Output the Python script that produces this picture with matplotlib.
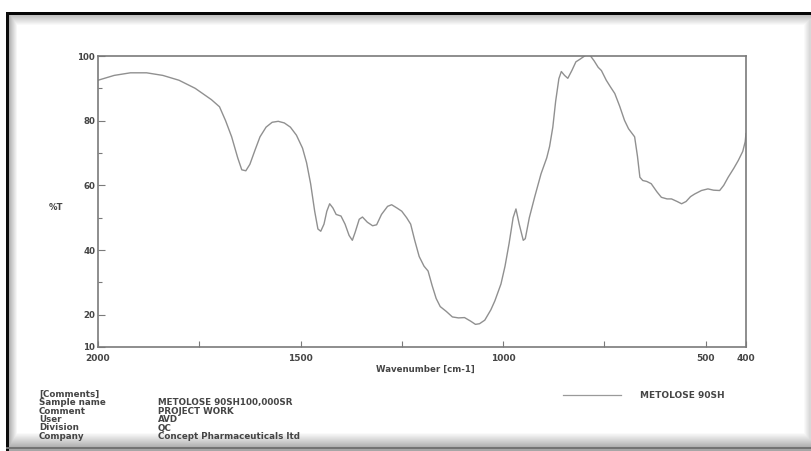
import numpy as np
import matplotlib
matplotlib.use("Agg")
import matplotlib.pyplot as plt
from matplotlib.ticker import FixedLocator

plt.rcParams['font.family'] = ['DejaVu Sans']

# ---- data ----
wavenumber = [2000, 1960, 1920, 1880, 1840, 1800, 1760, 1720, 1700, 1685, 1670, 1655,
              1645, 1635, 1625, 1612, 1600, 1585, 1570, 1555, 1540, 1525, 1510, 1495,
              1485, 1475, 1465, 1457, 1450, 1442, 1435, 1428, 1420, 1412, 1400, 1390,
              1380, 1372, 1365, 1355, 1347, 1335, 1322, 1312, 1300, 1285, 1275, 1262,
              1250, 1238, 1228, 1218, 1207, 1195, 1185, 1175, 1165, 1155, 1140, 1125,
              1110, 1095, 1080, 1068, 1058, 1045, 1030, 1020, 1005, 995, 985, 975,
              968, 960, 950, 945, 935, 922, 906, 892, 885, 877, 870, 862,
              856, 848, 840, 830, 820, 810, 795, 785, 775, 765, 757, 745,
              735, 724, 712, 700, 690, 675, 668, 662, 655, 645, 634, 620,
              609, 595, 584, 570, 559, 548, 537, 527, 510, 494, 480, 465,
              455, 444, 430, 419, 408, 402, 400]
transmittance = [92.5, 94.0, 94.8, 94.8, 94.0, 92.5, 90.0, 86.5, 84.3, 80.0, 75.0, 68.5,
                 64.8, 64.5, 66.5, 71.0, 75.0, 78.0, 79.5, 79.8, 79.3, 78.0, 75.5, 71.5,
                 67.0, 60.5, 52.0, 46.5, 45.8, 48.0, 52.0, 54.3, 53.0, 51.0, 50.5, 48.0,
                 44.5, 43.0, 45.5, 49.5, 50.2, 48.6, 47.5, 47.8, 51.0, 53.5, 54.0, 53.0,
                 52.0, 50.0, 48.0, 43.0, 38.0, 35.0, 33.5, 29.0, 25.0, 22.5, 21.0, 19.3,
                 19.0, 19.1, 18.0, 17.0, 17.2, 18.3, 21.5, 24.3, 29.5, 35.0, 42.0, 50.0,
                 52.7, 48.0, 43.0, 43.5, 50.0, 56.3, 63.6, 68.5, 72.0, 78.0, 86.0, 93.0,
                 95.2, 94.0, 93.1, 95.5, 98.2, 99.0, 100.3, 100.2, 98.5, 96.5, 95.5, 92.5,
                 90.5, 88.4, 84.5, 80.1, 77.5, 75.0, 69.0, 62.5, 61.5, 61.2, 60.5, 58.0,
                 56.3, 55.8, 55.8, 55.0, 54.3, 55.0, 56.5, 57.3, 58.4, 58.9, 58.5, 58.4,
                 60.0, 62.5, 65.3, 67.7, 70.5, 73.5, 76.0]

y_ticks = [10, 20, 40, 60, 80, 100]
y_minor = [30, 50, 70, 90]
x_ticks = [2000, 1500, 1000, 500, 400]
x_minor = [1750, 1250, 750]

comment_keys = ["Sample name", "Comment", "User", "Division", "Company"]
comment_vals = ["METOLOSE 90SH100,000SR", "PROJECT WORK", "AVD", "QC",
                "Concept Pharmaceuticals ltd"]
series_name = "METOLOSE 90SH"

W, H = 811, 451
fig = plt.figure(figsize=(W / 100, H / 100), dpi=100)

# ---- scanned-page frame background ----
yy, xx = np.mgrid[0:H, 0:W]
shade = np.ones((H, W))
shade = np.minimum(shade, 0.75 + 0.25 * np.clip((yy - 15) / 10.0, 0, 1))
shade = np.minimum(shade, 0.70 + 0.30 * np.clip((xx - 9) / 8.0, 0, 1))
shade = np.minimum(shade, 1.0 - 0.35 * np.clip((yy - 432) / 16.0, 0, 1))
shade = np.minimum(shade, 1.0 - 0.15 * np.clip((xx - 803) / 6.0, 0, 1))
bg = shade
bg[:12, :] = 1.0
bg[:, :6] = 1.0
bg[12:15, 6:] = 0.02
bg[12:, 6:9] = 0.05
bg[447:449, 6:] = 0.45
bgax = fig.add_axes([0, 0, 1, 1])
bgax.imshow(bg, cmap="gray", vmin=0, vmax=1, aspect="auto", interpolation="bilinear")
bgax.axis("off")

txt_color = "#454545"
fs = 6.3
fw = "bold"

# ---- spectrum axes ----
left, right, top, bottom = 98, 746, 56, 347
ax = fig.add_axes([left / W, 1 - bottom / H, (right - left) / W, (bottom - top) / H])
ax.patch.set_alpha(0)
ax.plot(wavenumber, transmittance, color="#909090", lw=1.0)
ax.set_xlim(2000, 400)
ax.set_ylim(10, 100)

ax.xaxis.set_major_locator(FixedLocator(x_ticks))
ax.xaxis.set_minor_locator(FixedLocator(x_minor))
ax.yaxis.set_major_locator(FixedLocator(y_ticks))
ax.yaxis.set_minor_locator(FixedLocator(y_minor))
ax.set_xticklabels([str(v) for v in x_ticks], fontsize=6.5, fontweight=fw, color=txt_color)
ax.set_yticklabels([str(v) for v in y_ticks], fontsize=6.2, fontweight=fw, color=txt_color)
ax.tick_params(axis="both", which="both", direction="in", colors="#7a7a7a",
               labelcolor=txt_color)
ax.tick_params(axis="y", which="major", length=5, width=0.8, pad=2)
ax.tick_params(axis="y", which="minor", length=3, width=0.8)
ax.tick_params(axis="x", which="major", length=4, width=0.8, pad=5)
ax.tick_params(axis="x", which="minor", length=4, width=0.8)
ax.tick_params(top=False, right=False)
for s in ax.spines.values():
    s.set_color("#7a7a7a")
    s.set_linewidth(1.2)

fig.text(425 / W, 1 - 369 / H, "Wavenumber [cm-1]", ha="center", va="center",
         fontsize=6.2, fontweight=fw, color=txt_color)
fig.text(56 / W, 1 - 208 / H, "%T", ha="center", va="center",
         fontsize=6.2, fontweight=fw, color=txt_color)

# ---- comments block ----
fig.text(39 / W, 1 - 394 / H, "[Comments]", ha="left", va="center", fontsize=fs,
         fontweight=fw, color=txt_color)
row_y = [402.5, 411, 419.5, 428, 436.5]
for k, v, y in zip(comment_keys, comment_vals, row_y):
    fig.text(39 / W, 1 - y / H, k, ha="left", va="center", fontsize=fs,
             fontweight=fw, color=txt_color)
    fig.text(158 / W, 1 - y / H, v, ha="left", va="center", fontsize=fs,
             fontweight=fw, color=txt_color)

# ---- legend ----
fig.lines.append(plt.Line2D([563 / W, 621 / W], [1 - 395 / H, 1 - 395 / H],
                            transform=fig.transFigure, color="#9a9a9a", lw=0.9))
fig.text(640 / W, 1 - 395 / H, series_name, ha="left", va="center", fontsize=6.5,
         fontweight=fw, color=txt_color)

fig.savefig("out.png", dpi=100)
